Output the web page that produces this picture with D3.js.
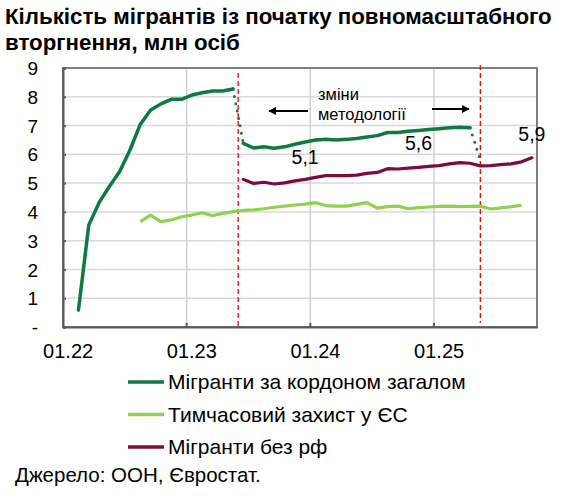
<!DOCTYPE html>
<html><head><meta charset="utf-8">
<script src="https://cdn.jsdelivr.net/npm/d3@7"></script>
<style>
html,body{margin:0;padding:0;background:#fff;}
svg{display:block;font-family:"Liberation Sans",Arial,sans-serif;}
</style></head>
<body><div id="chart"></div>
<script>
// ---- data ----
const titleLines = ["Кількість мігрантів із початку повномасштабного", "вторгнення, млн осіб"];
const monthStart = "2022-01", monthEnd = "2025-10";
const xTickMonths = ["2022-01", "2023-01", "2024-01", "2025-01"];
const xTickLabels = ["01.22", "01.23", "01.24", "01.25"];
const yTicks = [0,1,2,3,4,5,6,7,8,9];
const yTickLabels = ["-","1","2","3","4","5","6","7","8","9"];

const totalStart1 = "2022-02";
const totalValues1 = [0.59,3.54,4.32,4.88,5.40,6.15,7.04,7.54,7.75,7.91,7.91,8.06,8.14,8.20,8.20,8.27];
const totalStart2 = "2023-06";
const totalValues2 = [6.38,6.22,6.26,6.21,6.26,6.35,6.43,6.50,6.52,6.50,6.52,6.55,6.60,6.65,6.76,6.76,6.80,6.83,6.86,6.89,6.92,6.94,6.92];
const totalBridges = [[["2023-05",8.27],["2023-06",6.38]], [["2025-04",6.92],["2025-05",5.80]]];

const tpStart = "2022-08";
const tpValues = [3.66,3.89,3.66,3.72,3.83,3.89,3.97,3.87,3.95,4.01,4.05,4.07,4.11,4.16,4.20,4.24,4.27,4.32,4.22,4.20,4.20,4.26,4.32,4.13,4.18,4.20,4.11,4.15,4.17,4.19,4.20,4.18,4.19,4.20,4.10,4.14,4.18,4.23];

const noRuStart = "2023-06";
const noRuValues = [5.13,4.99,5.03,4.97,5.01,5.08,5.13,5.20,5.26,5.26,5.26,5.28,5.34,5.37,5.50,5.49,5.52,5.55,5.58,5.61,5.67,5.71,5.69,5.60,5.61,5.64,5.67,5.74,5.88];

const methodChanges = ["2023-06", "2025-05"];
const valueLabels = [["2023-12",5.1,"5,1"],["2024-11",5.6,"5,6"],["2025-10",5.9,"5,9"]];
const annotation = ["зміни", "методології"];
const seriesNames = ["Мігранти за кордоном загалом", "Тимчасовий захист у ЄС", "Мігранти без рф"];
const sourceText = "Джерело: ООН, Євростат.";

// ---- helpers ----
const fmt = d3.timeFormat("%Y-%m"), parse = d3.timeParse("%Y-%m");
const months = d3.timeMonth.range(parse(monthStart), d3.timeMonth.offset(parse(monthEnd),1)).map(fmt);
const shift = (m, k) => fmt(d3.timeMonth.offset(parse(m), k));
const toPts = (start, vals) => vals.map((v,i)=>[shift(start,i), v]);

const W = 582, H = 496;
const M = {left:63, right:45, top:68, bottom:169};
const colors = ["#10793F", "#92D050", "#7B0C3C"];
const FS = 20;

const svg = d3.select("#chart").append("svg").attr("width",W).attr("height",H);

const x = d3.scaleBand().domain(months).range([M.left, W-M.right]).paddingInner(0).paddingOuter(0);
const xc = m => x(m) + x.bandwidth()/2;
const y = d3.scaleLinear().domain([0,9]).range([H-M.bottom, M.top]);

// title
svg.append("g").selectAll("text").data(titleLines).join("text")
  .attr("x",5).attr("y",(d,i)=>24+i*26)
  .attr("font-size",22.3).attr("font-weight","bold").attr("fill","#000").text(d=>d);

// gridlines
svg.append("g").selectAll("line").data(yTicks.filter(d=>d>0)).join("line")
  .attr("x1",M.left).attr("x2",W-M.right).attr("y1",d=>y(d)).attr("y2",d=>y(d))
  .attr("stroke","#d9d9d9").attr("stroke-width",1.5);
svg.append("g").selectAll("line").data(xTickMonths.slice(1)).join("line")
  .attr("x1",d=>x(d)).attr("x2",d=>x(d)).attr("y1",M.top).attr("y2",H-M.bottom)
  .attr("stroke","#d0d0d0").attr("stroke-width",1.5);

// frame
svg.append("rect").attr("x",M.left).attr("y",M.top).attr("width",W-M.left-M.right).attr("height",H-M.top-M.bottom)
  .attr("fill","none").attr("stroke","#7f7f7f").attr("stroke-width",2);

// axes
const yAxis = d3.axisLeft(y).tickValues(yTicks).tickFormat((d,i)=>yTickLabels[i]).tickSize(-3).tickPadding(25);
const gy = svg.append("g").attr("transform",`translate(${M.left},0)`).call(yAxis);
gy.select(".domain").attr("stroke","#595959").attr("stroke-width",2);
gy.selectAll(".tick line").attr("stroke","#595959").attr("stroke-width",2);
gy.selectAll(".tick text").attr("font-size",19).attr("font-family","Liberation Sans, Arial").attr("fill","#000").attr("dy","0.35em");

const xAxis = d3.axisBottom(x).tickValues(xTickMonths).tickFormat((d,i)=>xTickLabels[i]).tickSize(0).tickPadding(17);
const gx = svg.append("g").attr("transform",`translate(0,${H-M.bottom})`).call(xAxis);
gx.select(".domain").attr("stroke","#595959").attr("stroke-width",2);
gx.selectAll(".tick text").attr("font-size",FS).attr("font-family","Liberation Sans, Arial").attr("fill","#000");
svg.append("g").selectAll("line").data(xTickMonths.slice(1)).join("line")
  .attr("x1",d=>x(d)).attr("x2",d=>x(d)).attr("y1",H-M.bottom-4).attr("y2",H-M.bottom)
  .attr("stroke","#595959").attr("stroke-width",2);

// method change lines
svg.append("g").selectAll("line").data(methodChanges).join("line")
  .attr("x1",(d,i)=> i===0 ? x(d) : xc(d)).attr("x2",(d,i)=> i===0 ? x(d) : xc(d))
  .attr("y1",(d,i)=> i===0 ? M.top+5 : M.top-3).attr("y2",(d,i)=> i===0 ? H-M.bottom : H-M.bottom-4)
  .attr("stroke","#ff0000").attr("stroke-width",1.3).attr("stroke-dasharray","5,3");

const line = d3.line().x(d=>xc(d[0])).y(d=>y(d[1]));

// series
svg.append("path").datum(toPts(tpStart,tpValues)).attr("d",line)
  .attr("fill","none").attr("stroke",colors[1]).attr("stroke-width",3.2).attr("stroke-linejoin","round");
svg.append("path").datum(toPts(noRuStart,noRuValues)).attr("d",line)
  .attr("fill","none").attr("stroke",colors[2]).attr("stroke-width",3.2).attr("stroke-linejoin","round").attr("stroke-linecap","round");
[toPts(totalStart1,totalValues1), toPts(totalStart2,totalValues2)].forEach(p=>{
  svg.append("path").datum(p).attr("d",line)
    .attr("fill","none").attr("stroke",colors[0]).attr("stroke-width",3.5).attr("stroke-linejoin","round").attr("stroke-linecap","round");
});
totalBridges.forEach(p=>{
  svg.append("path").datum(p).attr("d",line)
    .attr("fill","none").attr("stroke",colors[0]).attr("stroke-width",3).attr("stroke-linecap","round").attr("stroke-dasharray","0,7.5");
});

// value labels
svg.append("g").selectAll("text").data(valueLabels).join("text")
  .attr("x",d=>xc(d[0])).attr("y",d=>y(d[1])-16)
  .attr("text-anchor","middle").attr("font-size",19.5).attr("fill","#000").text(d=>d[2]);

// annotation
svg.append("g").selectAll("text").data(annotation).join("text")
  .attr("x",318).attr("y",(d,i)=>100+i*20).attr("font-size",16.5).attr("fill","#000").text(d=>d);
const defs = svg.append("defs");
defs.append("marker").attr("id","ah").attr("viewBox","0 0 10 10").attr("refX",9).attr("refY",5)
  .attr("markerWidth",4.5).attr("markerHeight",4.5).attr("orient","auto")
  .append("path").attr("d","M0,0 L10,5 L0,10 z").attr("fill","#000");
svg.append("line").attr("x1",308).attr("x2",269).attr("y1",111).attr("y2",111)
  .attr("stroke","#000").attr("stroke-width",1.8).attr("marker-end","url(#ah)");
svg.append("line").attr("x1",432).attr("x2",469).attr("y1",109).attr("y2",109)
  .attr("stroke","#000").attr("stroke-width",1.8).attr("marker-end","url(#ah)");

// legend
const lg = svg.append("g").selectAll("g").data(seriesNames).join("g")
  .attr("transform",(d,i)=>`translate(128,${382+i*32.5})`);
lg.append("line").attr("x1",0).attr("x2",36).attr("stroke",(d,i)=>colors[i]).attr("stroke-width",3.5);
lg.append("text").attr("x",40).attr("dy","0.35em").attr("font-size",21).attr("fill","#000").text(d=>d);

svg.append("text").attr("x",15).attr("y",482).attr("font-size",20.5).attr("fill","#000").text(sourceText);
</script></body></html>
